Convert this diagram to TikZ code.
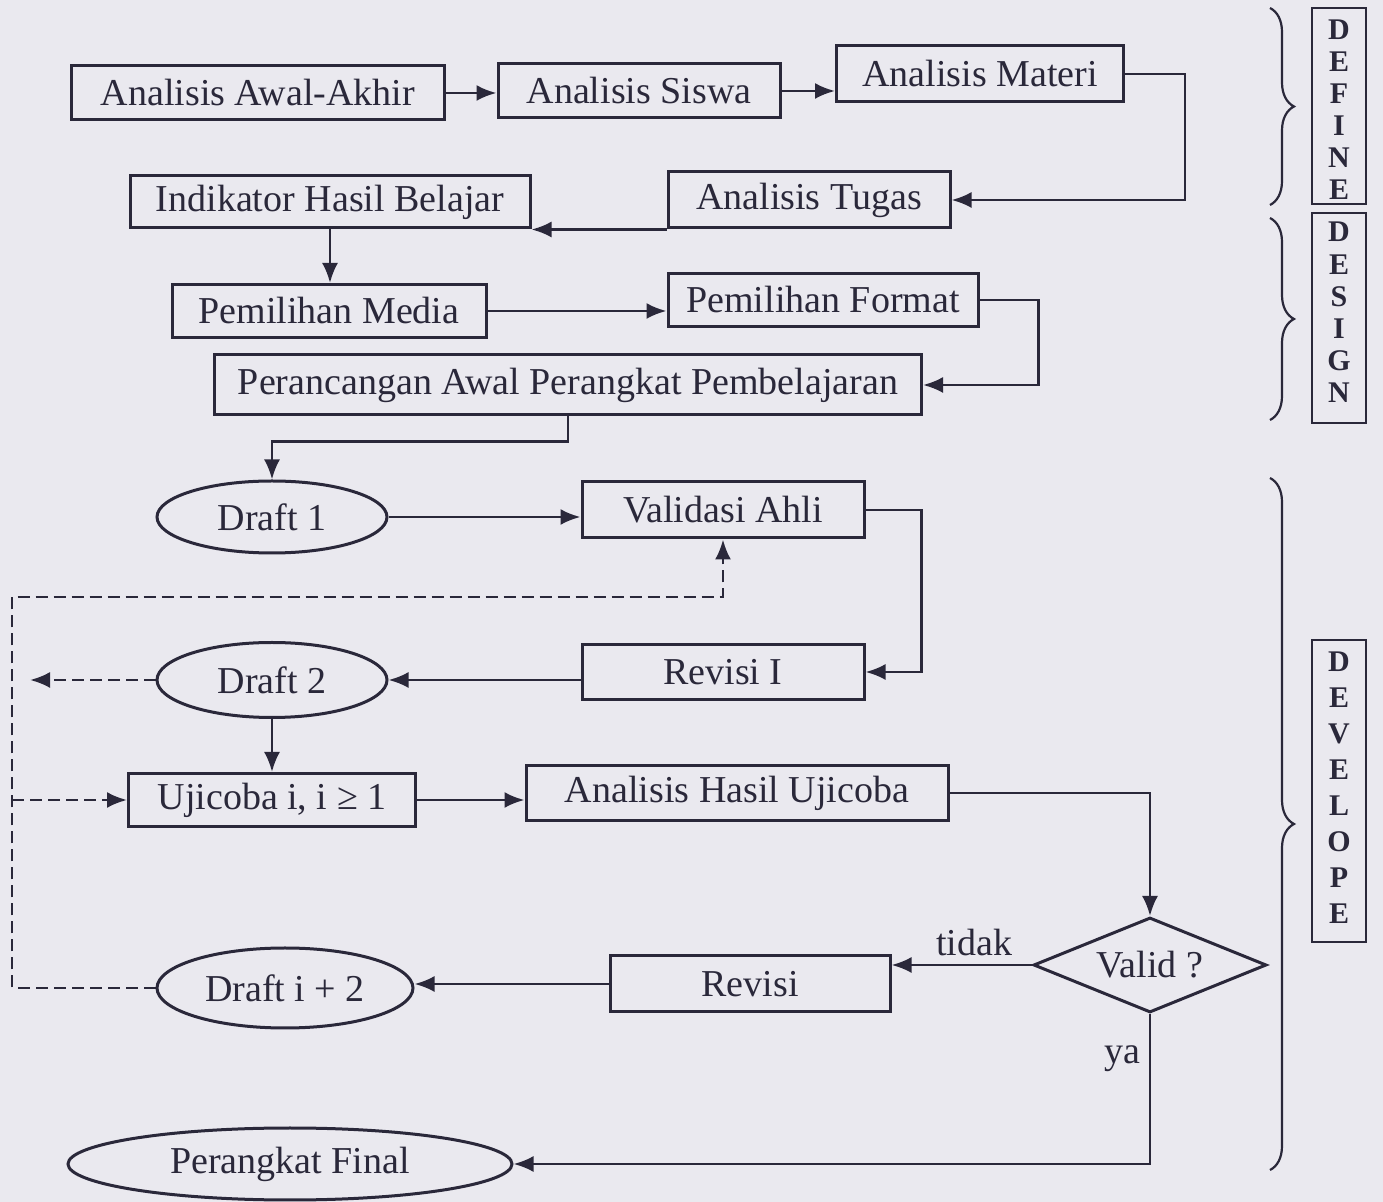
\documentclass[tikz,border=0pt]{standalone}
\usepackage{fontspec}
\setmainfont{Liberation Serif}
\usetikzlibrary{shapes.geometric,arrows.meta,decorations.pathreplacing}
\definecolor{ink}{RGB}{42,40,58}
\definecolor{paper}{RGB}{234,233,239}
\tikzset{
  wh/.style 2 args = {minimum width=#1*0.5pt, minimum height=#2*0.5pt},
  box/.style    = {draw=ink, line width=1.5pt, inner sep=0pt, text=ink, font=\fontsize{19}{21}\selectfont},
  oval/.style   = {box, ellipse},
  dec/.style    = {box, diamond, aspect=2.45},
  lab/.style    = {text=ink, inner sep=0pt, font=\fontsize{19}{21}\selectfont},
  arr/.style    = {ink, line width=1.35pt, -{Latex[length=10pt,width=8pt]}},
  darr/.style   = {arr, dash pattern=on 6pt off 3pt},
  brc/.style    = {ink, line width=1.1pt, decorate, decoration={brace, amplitude=12pt}},
  stgbox/.style = {draw=ink, line width=1.3pt, inner sep=0pt},
  stg/.style    = {text=ink, inner sep=0pt, font=\fontsize{15}{15}\bfseries\selectfont},
}

\begin{document}
\begin{tikzpicture}[x=0.5pt, y=-0.5pt]

% ── Paper ─────────────────────────────────────────────────────
\fill[paper] (0,0) rectangle (1383,1202);

% ── DEFINE ────────────────────────────────────────────────────
\node[box, wh={373}{54}] (aa) at (258,93)  {Analisis Awal-Akhir};
\node[box, wh={282}{54}] (as) at (639,91)  {Analisis Siswa};
\node[box, wh={287}{56}] (am) at (980,74)  {Analisis Materi};
\node[box, wh={282}{56}] (at) at (809,200) {Analisis Tugas};
\node[box, wh={400}{52}] (ih) at (330,202) {Indikator Hasil Belajar};

\draw[arr] (aa.east) -- (aa.east -| as.west);
\draw[arr] (as.east) -- (as.east -| am.west);
\draw[arr] (am.east) -- ++(60,0) |- (at.east);
\draw[arr] (at.south west) -- (at.south west -| ih.east);

% ── DESIGN ────────────────────────────────────────────────────
\node[box, wh={314}{53}] (pm) at (329,311) {Pemilihan Media};
\node[box, wh={310}{53}] (pf) at (823,300) {Pemilihan Format};
\node[box, wh={707}{60}] (pa) at (568,385) {Perancangan Awal Perangkat Pembelajaran};

\draw[arr] (ih.south) -- (ih.south |- pm.north);
\draw[arr] (pm.east) -- (pm.east -| pf.west);
\draw[arr] (pf.east) -- ++(59,0) |- (pa.east);

% ── DEVELOPE ──────────────────────────────────────────────────
\node[oval, wh={230}{72}] (d1) at (272,517)  {Draft 1};
\node[box,  wh={282}{56}] (va) at (723,510)  {Validasi Ahli};
\node[box,  wh={282}{55}] (r1) at (723,672)  {Revisi I};
\node[oval, wh={230}{75}] (d2) at (272,680)  {Draft 2};
\node[box,  wh={287}{53}] (uj) at (272,800)  {Ujicoba i, i ≥ 1};
\node[box,  wh={422}{55}] (ah) at (737,793)  {Analisis Hasil Ujicoba};
\node[dec,  wh={233}{95}] (vd) at (1150,965) {Valid ?};
\node[box,  wh={280}{56}] (rv) at (750,984)  {Revisi};
\node[oval, wh={256}{80}] (di) at (285,988)  {Draft i + 2};
\node[oval, wh={444}{72}] (fin) at (290,1164) {Perangkat Final};

\draw[arr] (pa.south) -- ++(0,25) -| (d1.north);
\draw[arr] (d1.east) -- (d1.east -| va.west);
\draw[arr] (va.east) -- ++(56,0) |- (r1.east);
\draw[arr] (r1.west |- d2.east) -- (d2.east);
\draw[arr] (d2.south) -- (uj.north);
\draw[arr] (uj.east) -- (uj.east -| ah.west);
\draw[arr] (ah.east) -| (vd.north);
\draw[arr] (vd.west) -- (vd.west -| rv.east)
  node[lab, pos=0.41, above=4pt] (lt) {tidak};
\draw[arr] (rv.west) -- (rv.west -| di.east);
\draw[arr] (vd.south) |- (fin.east)
  node[lab, pos=0.15, left=4pt] (ly) {ya};

% dashed loop back
\coordinate (lx) at (12,597);
\coordinate (ld) at (30,680);
\draw[darr] (di.west) -| (lx) -| (va.south);
\draw[darr] (lx |- uj.west) -- (uj.west);
\draw[darr] (d2.west) -- (ld);

% ── Stage labels ──────────────────────────────────────────────
\draw[brc] (1270,8)   -- (1270,205);
\draw[brc] (1270,218) -- (1270,420);
\draw[brc] (1270,478) -- (1270,1170);

\node[stgbox, wh={54}{196}] (sdef) at (1339,106) {};
\foreach \ch [count=\k] in {D,E,F,I,N,E}
  \node[stg] (def-\k) at (1339,30+32*\k-32) {\ch};

\node[stgbox, wh={54}{210}] (sdes) at (1339,318) {};
\foreach \ch [count=\k] in {D,E,S,I,G,N}
  \node[stg] (des-\k) at (1339,232+32.2*\k-32.2) {\ch};

\node[stgbox, wh={54}{302}] (sdev) at (1339,791) {};
\foreach \ch [count=\k] in {D,E,V,E,L,O,P,E}
  \node[stg] (dev-\k) at (1339,662+35.9*\k-35.9) {\ch};

\end{tikzpicture}
\end{document}
